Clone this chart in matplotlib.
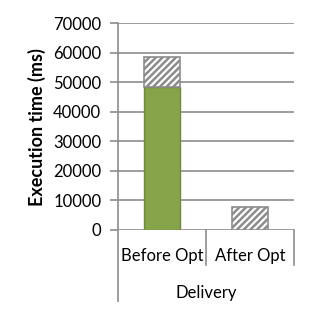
import matplotlib.pyplot as plt
from matplotlib.lines import Line2D

# Tempo de execucao antes / depois da otimizacao
categorias = ["Before Opt", "After Opt"]
grupo = "Delivery"
base = [48500, 0]
extra = [10000, 7700]
yticks = [0, 10000, 20000, 30000, 40000, 50000, 60000, 70000]

plt.rcParams["font.family"] = ["Lato", "DejaVu Sans"]
plt.rcParams["hatch.color"] = "#858585"
plt.rcParams["hatch.linewidth"] = 1.8

fig = plt.figure(figsize=(3.16, 3.11), dpi=100)
ax = fig.add_axes([118 / 316, 1 - 230 / 311, 176 / 316, 206.7 / 311])

x = range(len(categorias))
ax.bar(x, base, width=0.42, color="#86a44a", edgecolor="#6f8a3c", linewidth=1, zorder=3)
ax.bar(x, extra, width=0.42, bottom=base, color="white", edgecolor="#8c8c8c",
       linewidth=1.2, hatch="/////", zorder=3)

ax.set_xlim(-0.5, 1.5)
ax.set_ylim(0, 70000)
ax.set_yticks(yticks)
ax.set_yticklabels([str(v) for v in yticks], fontsize=12)
ax.set_xticks([])
ax.tick_params(axis="y", length=6, color="#8c8c8c", width=1.2, pad=6)
ax.yaxis.grid(True, color="#8c8c8c", linewidth=1.2, zorder=0)
ax.set_axisbelow(True)

for s in ["top", "right", "bottom", "left"]:
    ax.spines[s].set_visible(False)

# eixo categorico de dois niveis
tr = ax.get_xaxis_transform()
ax.add_line(Line2D([-0.5, -0.5], [1.0, -0.345], transform=tr, color="#8c8c8c",
                   linewidth=1.2, clip_on=False))
for xv in [0.5, 1.5]:
    ax.add_line(Line2D([xv, xv], [0, -0.17], transform=tr, color="#8c8c8c",
                       linewidth=1.2, clip_on=False))
for i, c in enumerate(categorias):
    ax.text(i, -0.125, c, transform=tr, ha="center", va="center", fontsize=12)
ax.text(0.5, -0.305, grupo, transform=tr, ha="center", va="center", fontsize=12)

ax.set_ylabel("Execution time (ms)", fontsize=13, fontweight="bold", labelpad=5)

plt.savefig("out.png", dpi=100)
